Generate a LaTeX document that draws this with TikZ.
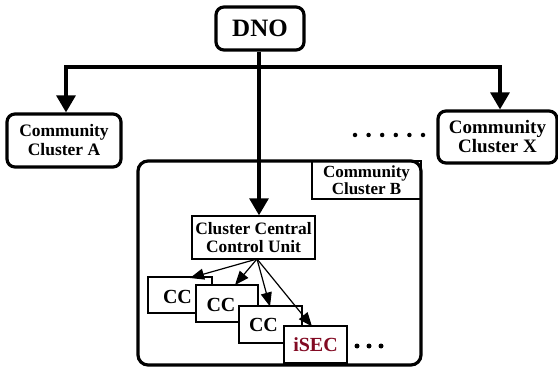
\documentclass[tikz,border=0pt]{standalone}
\usepackage{fontspec}
\setmainfont{Liberation Serif}
\usetikzlibrary{arrows.meta}
\definecolor{isecred}{RGB}{130,10,35}
\tikzset{
  thickbox/.style={draw, line width=3.2pt, rounded corners=8pt, inner sep=0pt, align=center, font=\bfseries},
  thinbox/.style={draw, line width=1.4pt, inner sep=0pt, align=center, font=\bfseries, fill=white},
  bigarrow/.style={line width=3.2pt, -{Triangle[length=17pt,width=19pt]}},
  bus/.style={line width=3.2pt},
  smallarrow/.style={line width=1.2pt, -{Triangle[length=14pt,width=11pt]}},
  cctext/.style={inner sep=0pt, font=\fontsize{20}{21}\selectfont\bfseries},
  dot/.style={circle, fill=black, inner sep=0pt, minimum size=5pt}
}
\begin{document}
\begin{tikzpicture}[x=1pt,y=-1pt]
\useasboundingbox (0,0) rectangle (558,369);
% top level
\node[thickbox, minimum width=88pt, minimum height=43pt, font=\fontsize{25}{27}\selectfont\bfseries] (dno) at (260,28.5) {DNO};
\node[thickbox, minimum width=114pt, minimum height=53pt, font=\fontsize{17.5}{19}\selectfont\bfseries] (ca) at (64,140.5) {Community\\Cluster A};
\node[thickbox, minimum width=119pt, minimum height=52pt, font=\fontsize{19}{19}\selectfont\bfseries] (cx) at (497.5,137) {Community\\Cluster X};
\foreach \i in {0,...,5} { \node[dot, minimum size=4.5pt] (td\i) at ({355+13.6*\i},135) {}; }
% cluster B container
\node[draw, line width=3.2pt, rounded corners=10pt, minimum width=283pt, minimum height=204pt, inner sep=0pt] (bigb) at (279.5,263) {};
\node[draw, line width=1.2pt, inner sep=0pt, minimum width=109pt, minimum height=38pt, align=center, font=\fontsize{17}{17}\selectfont\bfseries] (lblb) at (366.5,180) {Community\\Cluster B};
\node[thinbox, minimum width=123pt, minimum height=43pt, font=\fontsize{17.4}{18}\selectfont\bfseries] (cccu) at (253.5,237.5) {Cluster Central\\Control Unit};
% CC boxes
\node[thinbox, minimum width=64pt, minimum height=36pt] (cc1) at (180,295) {};
\node[cctext] (cc1t) at (177.5,297) {CC};
\node[thinbox, minimum width=62pt, minimum height=37pt] (cc2) at (227,303.5) {};
\node[cctext] (cc2t) at (221,305) {CC};
\node[thinbox, minimum width=63pt, minimum height=37pt] (cc3) at (270.5,324.5) {};
\node[cctext] (cc3t) at (263.5,325) {CC};
\node[thinbox, minimum width=63pt, minimum height=37pt] (isec) at (315.5,344.5) {};
\node[cctext, text=isecred] (isect) at (315.5,345) {iSEC};
\foreach \i in {0,1,2} { \node[dot] (bd\i) at ({357+12*\i},346) {}; }
% connectors
\coordinate (busL) at (66,67);
\coordinate (busR) at (500,67);
\draw[bus] ([xshift=-1.6pt]busL) -- ([xshift=1.6pt]busR);
\draw[bigarrow] ([yshift=1.6pt]busL) -- (busL |- ca.north);
\draw[bigarrow] ([yshift=1.6pt]busR) -- (busR |- cx.north);
\draw[bigarrow] ([xshift=-1pt]dno.south) -- ([xshift=-1pt]dno.south |- cccu.north);
\coordinate (fan) at (257,259);
\coordinate (t1) at (190,278);
\coordinate (t2) at (235,285);
\coordinate (t3) at (270,306.5);
\coordinate (t4) at (312,326.5);
\draw[smallarrow] (fan) -- (t1);
\draw[smallarrow] (fan) -- (t2);
\draw[smallarrow] (fan) -- (t3);
\draw[smallarrow] (fan) -- (t4);
\end{tikzpicture}
\end{document}
